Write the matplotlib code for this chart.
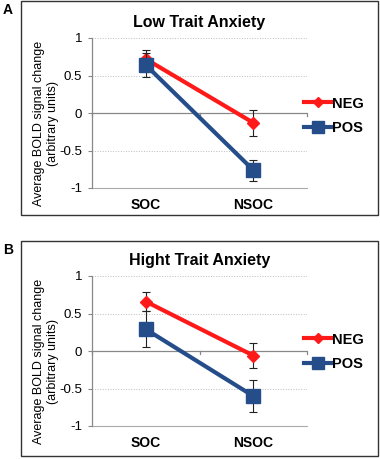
import numpy as np
import matplotlib
matplotlib.use('Agg')
from matplotlib import pyplot as plt
from matplotlib.patches import Rectangle

plt.rcParams['font.family'] = ['Liberation Sans', 'DejaVu Sans']

conds = ['SOC', 'NSOC']
titles = ['Low Trait Anxiety', 'Hight Trait Anxiety']
panel_labels = ['A', 'B']

# panel A (low anxiety)
neg_low = [0.72, -0.13]
neg_low_err = [0.12, 0.17]
pos_low = [0.64, -0.76]
pos_low_err = [0.16, 0.14]

# panel B (high anxiety)
neg_high = [0.66, -0.06]
neg_high_err = [0.13, 0.17]
pos_high = [0.29, -0.60]
pos_high_err = [0.24, 0.21]

W, H = 380, 459
fig = plt.figure(figsize=(W/100, H/100), dpi=100)

red = '#FF1A1A'
blue = '#254D8A'

def px(x0, y0, x1, y1):
    # pixel box -> figure fractions [left, bottom, width, height]
    return [x0/W, 1 - y1/H, (x1 - x0)/W, (y1 - y0)/H]

panels = [
    dict(box=(21, 1, 378, 215), ax=(92, 38, 307, 188), leg=(304, 116),
         neg=neg_low, nege=neg_low_err, pos=pos_low, pose=pos_low_err),
    dict(box=(21, 241, 378, 456), ax=(92, 276, 307, 426), leg=(304, 352),
         neg=neg_high, nege=neg_high_err, pos=pos_high, pose=pos_high_err),
]

xs = np.array([0.5, 1.5])
for i, p in enumerate(panels):
    bx = p['box']
    fig.patches.append(Rectangle((bx[0]/W, 1 - bx[3]/H), (bx[2]-bx[0])/W, (bx[3]-bx[1])/H,
                                 transform=fig.transFigure, fill=False, ec='#333333', lw=1.0))
    fig.text(3/W, 1 - (bx[1] + 9)/H, panel_labels[i], fontsize=10, fontweight='bold', va='center')
    ax = fig.add_axes(px(*p['ax']))
    ax.set_xlim(0, 2)
    ax.set_ylim(-1, 1)
    for yv in [1, 0.5, -0.5]:
        ax.axhline(yv, color='#BBBBBB', lw=0.7, ls=':', zorder=0)
    ax.axhline(-1, color='#AAAAAA', lw=0.8, zorder=0, clip_on=False)
    ax.axhline(0, color='#888888', lw=0.9, zorder=1)
    for xt in [0, 1, 2]:
        ax.plot([xt, xt], [0, -0.04], color='#888888', lw=0.9, clip_on=False, zorder=1)
    for s in ['top', 'right', 'bottom']:
        ax.spines[s].set_visible(False)
    ax.spines['left'].set_color('#888888')
    ax.spines['left'].set_linewidth(0.9)
    ax.set_yticks([-1, -0.5, 0, 0.5, 1])
    ax.set_yticklabels(['-1', '-0.5', '0', '0.5', '1'], fontsize=9.5)
    ax.tick_params(axis='y', length=3, color='#888888', pad=4)
    ax.set_xticks(xs)
    ax.set_xticklabels(conds, fontsize=10, fontweight='bold')
    ax.tick_params(axis='x', length=0, pad=7)
    ax.set_title(titles[i], fontsize=11.5, fontweight='bold', pad=8)
    ax.set_ylabel('Average BOLD signal change\n(arbitrary units)', fontsize=9,
                  linespacing=1.2)
    ax.yaxis.set_label_coords(-0.155, 0.43)

    ln_neg = ax.errorbar(xs, p['neg'], yerr=p['nege'], color=red, lw=3, marker='D', ms=6,
                         ecolor='#222222', elinewidth=0.8, capsize=3, capthick=0.8,
                         label='NEG', clip_on=False, zorder=3)
    ln_pos = ax.errorbar(xs, p['pos'], yerr=p['pose'], color=blue, lw=3, marker='s', ms=10,
                         ecolor='#222222', elinewidth=0.8, capsize=3, capthick=0.8,
                         label='POS', clip_on=False, zorder=4)
    lx, ly = p['leg']
    ax.legend(handles=[ln_neg[0], ln_pos[0]], labels=['NEG', 'POS'],
              loc='center left', bbox_to_anchor=(lx/W, 1 - ly/H), bbox_transform=fig.transFigure,
              frameon=False, prop={'weight': 'bold', 'size': 10.5}, handlelength=1.9,
              handletextpad=0.0, labelspacing=0.75, markerscale=0.8, borderpad=0,
              borderaxespad=0)

fig.savefig('out.png', dpi=100)
